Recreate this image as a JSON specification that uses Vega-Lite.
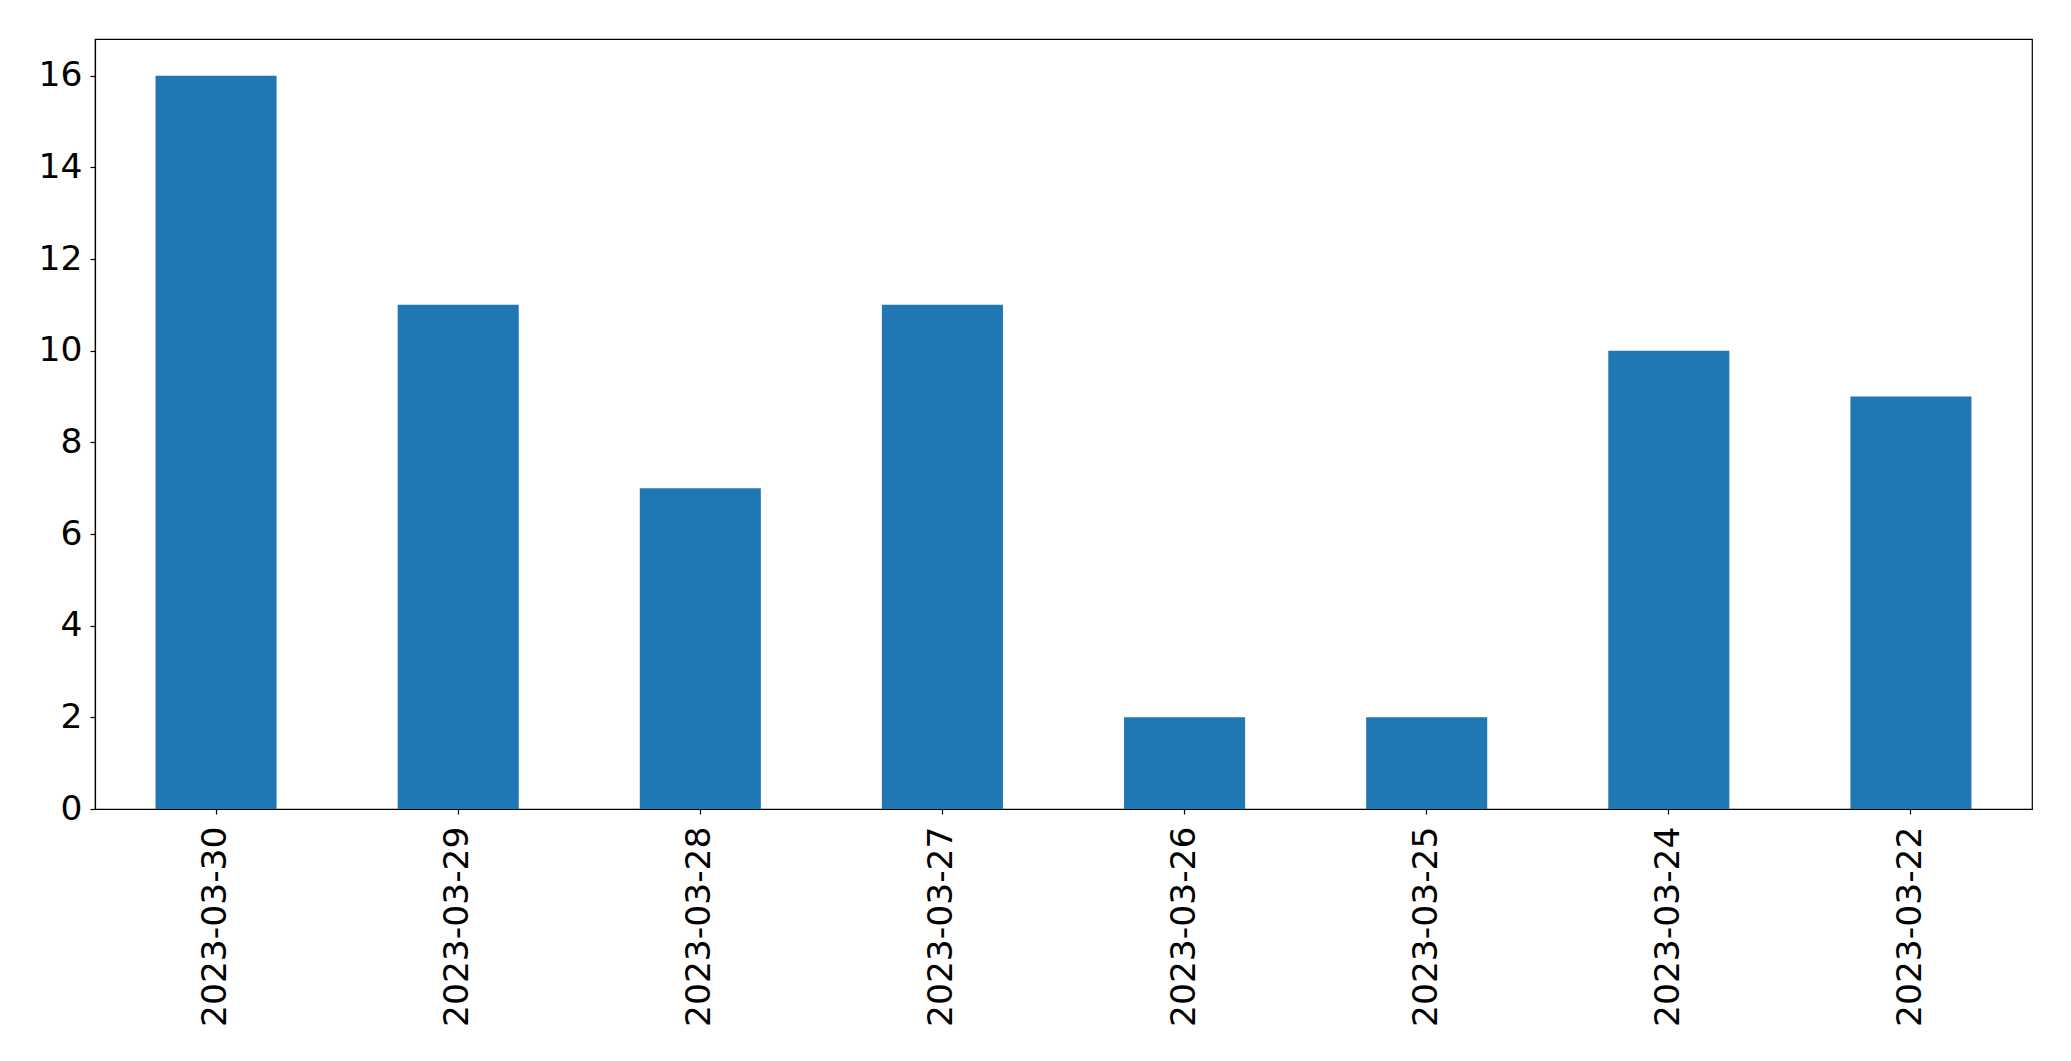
{
  "$schema": "https://vega.github.io/schema/vega-lite/v6.json",
  "width": 1937,
  "height": 770,
  "autosize": {"type": "none"},
  "padding": {"left": 95, "top": 39, "right": 39, "bottom": 252},
  "background": "white",
  "config": {
    "view": {"stroke": "black", "strokeWidth": 1.2},
    "font": "DejaVu Sans",
    "axis": {
      "grid": false,
      "domainColor": "black",
      "domainWidth": 1.2,
      "tickColor": "black",
      "tickWidth": 1.2,
      "tickSize": 5,
      "labelColor": "black",
      "labelFont": "DejaVu Sans",
      "labelFontSize": 34.5,
      "labelLimit": 0,
      "title": null
    }
  },
  "data": {
    "values": [
      {"date": "2023-03-30", "count": 16},
      {"date": "2023-03-29", "count": 11},
      {"date": "2023-03-28", "count": 7},
      {"date": "2023-03-27", "count": 11},
      {"date": "2023-03-26", "count": 2},
      {"date": "2023-03-25", "count": 2},
      {"date": "2023-03-24", "count": 10},
      {"date": "2023-03-22", "count": 9}
    ]
  },
  "mark": {"type": "bar", "color": "#1f77b4"},
  "encoding": {
    "x": {
      "field": "date",
      "type": "nominal",
      "sort": null,
      "scale": {"paddingInner": 0.5, "paddingOuter": 0.25},
      "axis": {"labelAngle": -90, "labelPadding": 12, "labelLimit": 0, "title": null}
    },
    "y": {
      "field": "count",
      "type": "quantitative",
      "scale": {"domain": [0, 16.8], "nice": false},
      "axis": {"values": [0, 2, 4, 6, 8, 10, 12, 14, 16], "labelPadding": 8, "title": null}
    }
  }
}
